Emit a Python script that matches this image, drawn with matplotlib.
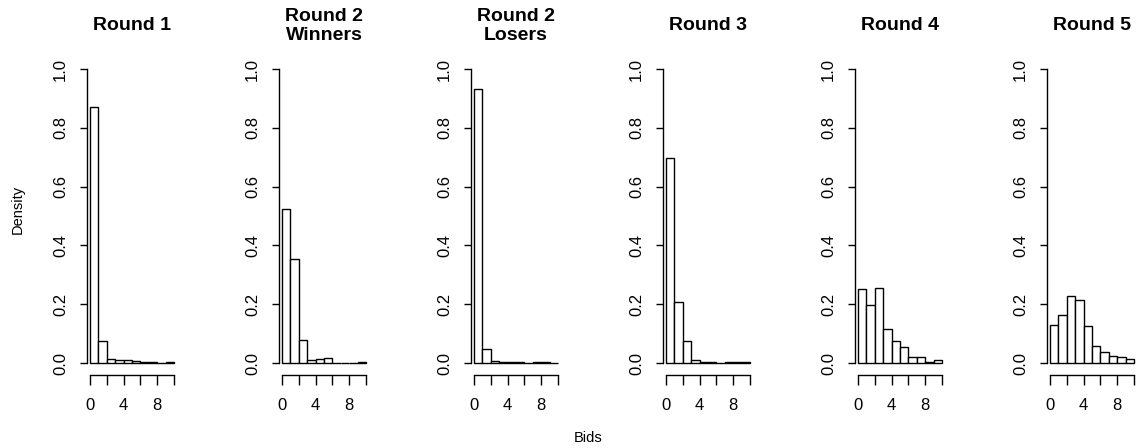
import numpy as np
import matplotlib
matplotlib.use("Agg")
import matplotlib.pyplot as plt

plt.rcParams['font.family'] = ['Liberation Sans', 'DejaVu Sans']

# bins of width 1 from 0 to 10, density per bin
edges = np.arange(0, 11)
titles = ['Round 1', 'Round 2\nWinners', 'Round 2\nLosers', 'Round 3', 'Round 4', 'Round 5']
round1 = [0.871, 0.076, 0.015, 0.009, 0.011, 0.007, 0.002, 0.002, 0.001, 0.005]
round2_win = [0.524, 0.354, 0.077, 0.009, 0.015, 0.017, 0.0, 0.0, 0.0, 0.005]
round2_lose = [0.932, 0.048, 0.006, 0.004, 0.004, 0.002, 0.0, 0.002, 0.002, 0.0]
round3 = [0.697, 0.207, 0.075, 0.010, 0.002, 0.002, 0.001, 0.002, 0.004, 0.002]
round4 = [0.252, 0.198, 0.256, 0.116, 0.074, 0.053, 0.020, 0.020, 0.005, 0.011]
round5 = [0.130, 0.162, 0.229, 0.215, 0.125, 0.059, 0.036, 0.023, 0.022, 0.014]
series = [round1, round2_win, round2_lose, round3, round4, round5]
yticks = [0.0, 0.2, 0.4, 0.6, 0.8, 1.0]
xticks = [0, 2, 4, 6, 8, 10]
xlabels = ['0', '', '4', '', '8', '']

W, H = 1137, 448
fig = plt.figure(figsize=(W / 100, H / 100), dpi=100)

px_unit = 8.4
for i, (title, dens) in enumerate(zip(titles, series)):
    x0 = 90 + 192 * i
    left = x0 - 0.4 * px_unit
    ax = fig.add_axes([left / W, (H - 374.8) / H, 10.8 * px_unit / W, 317.4 / H])
    ax.bar(edges[:-1], dens, width=1, align='edge', color='white',
           edgecolor='black', linewidth=1.0)
    ax.set_xlim(-0.4, 10.4)
    ax.set_ylim(-0.04, 1.04)
    for s in ['top', 'right']:
        ax.spines[s].set_visible(False)
    ax.spines['left'].set_bounds(0, 1)
    ax.spines['bottom'].set_bounds(0, 10)
    ax.spines['left'].set_linewidth(1.0)
    ax.spines['bottom'].set_linewidth(1.0)
    ax.set_yticks(yticks)
    ax.set_yticklabels([f'{v:.1f}' for v in yticks], rotation=90, va='center')
    ax.set_xticks(xticks)
    ax.set_xticklabels(xlabels)
    ax.tick_params(axis='y', length=5, width=1.0, pad=8.5, labelsize=12)
    ax.tick_params(axis='x', length=7, width=1.0, pad=9.5, labelsize=12)
    fig.text((left + 10.8 * px_unit / 2) / W, 1 - 26 / H, title, ha='center',
             va='center', fontsize=14, fontweight='bold', linespacing=1.1)

fig.text(18 / W, 0.5 + 15 / H, 'Density', rotation=90, ha='center', va='center', fontsize=10.5)
fig.text(588 / W, 1 - 438 / H, 'Bids', ha='center', va='center', fontsize=10.5)

fig.savefig('out.png', dpi=100)
